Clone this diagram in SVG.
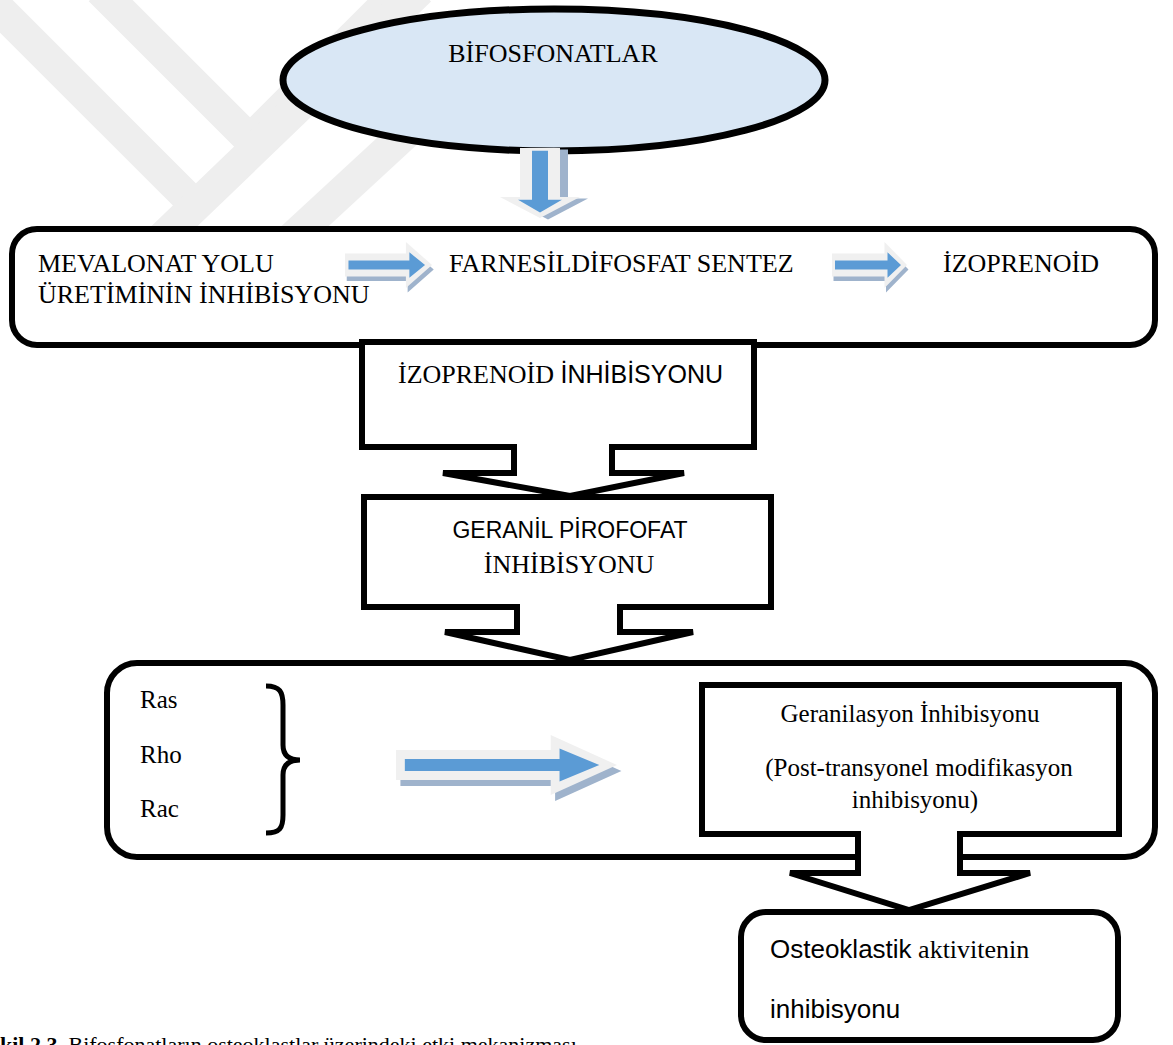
<svg xmlns="http://www.w3.org/2000/svg" width="1173" height="1045" viewBox="0 0 1173 1045">
<style>
.box{fill:#ffffff;stroke:#000000;stroke-width:6;stroke-linejoin:miter}
.serif{font-family:"Liberation Serif","Times New Roman",serif;fill:#000}
.sans{font-family:"Liberation Sans",Arial,sans-serif;fill:#000}
.wm{stroke:#eeeeee;stroke-width:32;fill:none;stroke-linecap:butt}
</style>
<defs>
<g id="arrow3d">
<polygon fill="#9fb3cc" points="0,-10 70,-10 70,-20 100,0 70,20 70,10 0,10" transform="translate(2,4)"/>
<polygon fill="#f0f0f0" points="0,-10 70,-10 70,-20 100,0 70,20 70,10 0,10"/>
<polygon fill="#5b9bd5" points="4,-4 74,-4 74,-11 92,0 74,11 74,4 4,4"/>
</g>
</defs>
<rect x="0" y="0" width="1173" height="1045" fill="#ffffff"/>
<g id="watermark">
<line class="wm" x1="-10" y1="0" x2="190" y2="200"/>
<line class="wm" x1="100" y1="-10" x2="250" y2="140"/>
<line class="wm" x1="250" y1="140" x2="400" y2="-10"/>
<line class="wm" x1="160" y1="240" x2="420" y2="-10"/>
<line class="wm" x1="290" y1="240" x2="420" y2="120"/>
</g>
<g id="n-bifosfonatlar">
<ellipse cx="554" cy="80" rx="271" ry="71" fill="#d9e7f5" stroke="#000" stroke-width="7"/>
<text class="serif" x="553" y="62" font-size="26" text-anchor="middle">BİFOSFONATLAR</text>
</g>
<g id="n-mevalonat">
<rect class="box" x="12" y="229" width="1143" height="116" rx="25"/>
<text class="serif" x="38" y="272" font-size="26">MEVALONAT YOLU</text>
<text class="serif" x="38" y="303" font-size="26">ÜRETİMİNİN İNHİBİSYONU</text>
<text class="serif" x="449" y="272" font-size="26">FARNESİLDİFOSFAT SENTEZ</text>
<text class="serif" x="943" y="272" font-size="26">İZOPRENOİD</text>
</g>
<g id="n-izoprenoid">
<path class="box" d="M362,342 H754 V447 H612 V473 H684 L570,496 L443,473 H514 V447 H362 Z"/>
<text x="398" y="383" font-size="26"><tspan class="serif">İZOPRENOİD </tspan><tspan class="sans" font-size="25">İNHİBİSYONU</tspan></text>
</g>
<g id="n-geranil">
<path class="box" d="M364,497 H771 V607 H620 V632 H693 L570,660 L445,632 H517 V607 H364 Z"/>
<text class="sans" x="570" y="538" font-size="23" text-anchor="middle">GERANİL PİROFOFAT</text>
<text class="serif" x="569" y="573" font-size="26" text-anchor="middle">İNHİBİSYONU</text>
</g>
<g id="n-ras">
<rect class="box" x="107" y="663" width="1048" height="194" rx="30"/>
<text class="serif" x="140" y="708" font-size="25">Ras</text>
<text class="serif" x="140" y="763" font-size="25">Rho</text>
<text class="serif" x="140" y="817" font-size="25">Rac</text>
<path d="M266,686 C280,686 283,692 283,705 L283,745 C283,756 290,760 300,760 C290,760 283,764 283,775 L283,815 C283,828 280,833 266,833" fill="none" stroke="#000" stroke-width="5"/>
</g>
<g id="n-geranilasyon">
<path class="box" d="M702,685 H1119 V834 H960 V873 H1030 L909,910 L790,873 H858 V834 H702 Z"/>
<text class="serif" x="910" y="722" font-size="25" text-anchor="middle">Geranilasyon İnhibisyonu</text>
<text class="serif" x="919" y="776" font-size="25" text-anchor="middle">(Post-transyonel modifikasyon</text>
<text class="serif" x="915" y="808" font-size="25" text-anchor="middle">inhibisyonu)</text>
</g>
<g id="n-osteoklastik">
<rect class="box" x="741" y="912" width="377" height="128" rx="25"/>
<text x="770" y="958" font-size="26"><tspan class="sans">Osteoklastik</tspan><tspan class="serif"> aktivitenin</tspan></text>
<text class="sans" x="770" y="1018" font-size="26">inhibisyonu</text>
</g>
<g id="connectors">
<use href="#arrow3d" transform="translate(540,148) rotate(90) scale(0.7,-2)"/>
<use href="#arrow3d" transform="translate(345,265) scale(0.87,1.15)"/>
<use href="#arrow3d" transform="translate(832,265) scale(0.75,1.15)"/>
<use href="#arrow3d" transform="translate(396,765) scale(2.21,1.5)"/>
</g>
<text id="caption" x="-22" y="1052" font-size="22" class="serif"><tspan font-weight="bold">Şekil 2.3.</tspan> Bifosfonatların osteoklastlar üzerindeki etki mekanizması</text>
</svg>
